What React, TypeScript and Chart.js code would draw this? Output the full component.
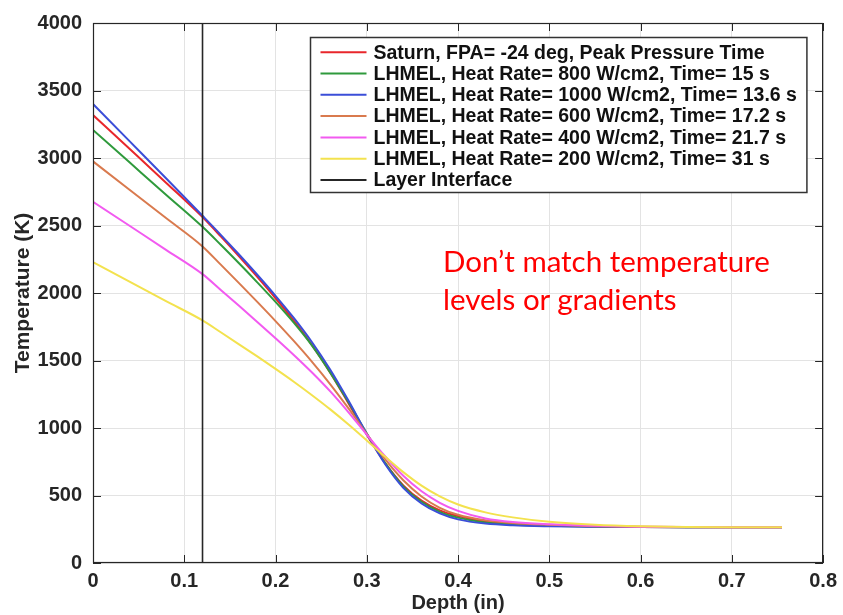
import React, { useEffect, useRef } from "react";
import { Chart, registerables } from "chart.js";

Chart.register(...registerables);

// ---- data ----
const depth = [0, 0.04, 0.08, 0.12, 0.14, 0.16, 0.18, 0.2, 0.22, 0.24, 0.26, 0.28, 0.3, 0.32, 0.34, 0.36, 0.38, 0.4, 0.43, 0.46, 0.5, 0.55, 0.6, 0.65, 0.7, 0.755];

const saturnPeak = [3318, 3068, 2817, 2562, 2419, 2271, 2119, 1961, 1795, 1614, 1410, 1182, 950, 742, 575, 462, 390, 348, 307, 289, 279, 272, 267, 265, 265, 265];
const lhmel800 = [3208, 2968, 2728, 2490, 2357, 2220, 2079, 1934, 1780, 1610, 1410, 1190, 960, 742, 568, 454, 379, 336, 300, 284, 275, 269, 266, 265, 265, 265];
const lhmel1000 = [3400, 3125, 2850, 2572, 2431, 2285, 2135, 1979, 1815, 1635, 1431, 1201, 957, 733, 557, 441, 367, 323, 292, 279, 272, 268, 266, 265, 265, 265];
const lhmel600 = [2975, 2765, 2555, 2345, 2210, 2073, 1934, 1792, 1645, 1490, 1324, 1145, 955, 769, 613, 493, 409, 357, 316, 296, 283, 273, 268, 266, 265, 265];
const lhmel400 = [2676, 2498, 2320, 2140, 2023, 1905, 1786, 1665, 1541, 1411, 1271, 1116, 951, 791, 646, 531, 446, 386, 330, 303, 287, 276, 269, 266, 265, 265];
const lhmel200 = [2228, 2085, 1940, 1797, 1709, 1620, 1530, 1438, 1343, 1243, 1138, 1026, 908, 788, 673, 573, 493, 433, 375, 338, 305, 283, 272, 267, 265, 265];

const interfaceDepth = 0.12;
const interfaceTemps = [0, 4000];

const seriesLabels = [
  "Saturn, FPA= -24 deg, Peak Pressure Time",
  "LHMEL, Heat Rate= 800 W/cm2, Time= 15 s",
  "LHMEL, Heat Rate= 1000 W/cm2, Time= 13.6 s",
  "LHMEL, Heat Rate= 600 W/cm2, Time= 17.2 s",
  "LHMEL, Heat Rate= 400 W/cm2, Time= 21.7 s",
  "LHMEL, Heat Rate= 200 W/cm2, Time= 31 s",
  "Layer Interface",
];
const seriesValues = [saturnPeak, lhmel800, lhmel1000, lhmel600, lhmel400, lhmel200];
const seriesColors = ["#e8262b", "#2f9a3c", "#3b4ed8", "#d97a4e", "#f25af0", "#f3e24e", "#262626"];

const xMin = 0, xMax = 0.8, xStep = 0.1;
const yMin = 0, yMax = 4000, yStep = 500;
const xTitle = "Depth (in)";
const yTitle = "Temperature (K)";
const noteLines = ["Don\u2019t match temperature", "levels or gradients"];

const FONT = "'Liberation Sans', Arial, Helvetica, sans-serif";
const AXIS_COLOR = "#262626";

const framePlugin = {
  id: "matlabFrame",
  afterDraw(chart: any) {
    const { ctx, chartArea: a, scales } = chart;
    ctx.save();
    // inward ticks
    ctx.strokeStyle = AXIS_COLOR;
    ctx.lineWidth = 1;
    const tl = 8;
    ctx.beginPath();
    scales.x.ticks.forEach((t: any) => {
      const px = Math.round(scales.x.getPixelForValue(t.value)) + 0.5;
      ctx.moveTo(px, a.bottom);
      ctx.lineTo(px, a.bottom - tl);
      ctx.moveTo(px, a.top);
      ctx.lineTo(px, a.top + tl);
    });
    scales.y.ticks.forEach((t: any) => {
      const py = Math.round(scales.y.getPixelForValue(t.value)) + 0.5;
      ctx.moveTo(a.left, py);
      ctx.lineTo(a.left + tl, py);
      ctx.moveTo(a.right, py);
      ctx.lineTo(a.right - tl, py);
    });
    ctx.stroke();
    // frame
    ctx.lineWidth = 1.2;
    ctx.strokeRect(a.left + 0.5, a.top + 0.5, a.right - a.left - 1, a.bottom - a.top - 1);

    // legend box
    ctx.font = `bold 19.5px ${FONT}`;
    let maxW = 0;
    seriesLabels.forEach((l) => { maxW = Math.max(maxW, ctx.measureText(l).width); });
    const padL = 10, lineLen = 46, gap = 7, padR = 10;
    const w = padL + lineLen + gap + maxW + padR;
    const rowH = 21.3;
    const h = 14.7 + rowH * (seriesLabels.length - 1) + 12.5;
    const bx = Math.round(a.right - 17 - w) + 0.5;
    const by = Math.round(a.top + 14) + 0.5;
    ctx.fillStyle = "#ffffff";
    ctx.fillRect(bx, by, w, h);
    ctx.strokeStyle = "#333333";
    ctx.lineWidth = 1.5;
    ctx.strokeRect(bx, by, w, h);
    ctx.textBaseline = "middle";
    ctx.textAlign = "left";
    seriesLabels.forEach((l, i) => {
      const cy = by + 14.7 + i * rowH;
      ctx.strokeStyle = seriesColors[i];
      ctx.lineWidth = 2;
      ctx.beginPath();
      ctx.moveTo(bx + padL, cy);
      ctx.lineTo(bx + padL + lineLen, cy);
      ctx.stroke();
      ctx.fillStyle = "#111111";
      ctx.fillText(l, bx + padL + lineLen + gap, cy + 1);
    });
    ctx.restore();
  },
};

export default function App() {
  const canvasRef = useRef<HTMLCanvasElement | null>(null);

  useEffect(() => {
    if (!canvasRef.current) return;
    const datasets: any[] = seriesValues.map((vals, i) => ({
      label: seriesLabels[i],
      data: depth.map((d, j) => ({ x: d, y: vals[j] })),
      borderColor: seriesColors[i],
      backgroundColor: seriesColors[i],
      borderWidth: 2,
      pointRadius: 0,
      fill: false,
      cubicInterpolationMode: "monotone",
      order: 20 - i,
    }));
    datasets.push({
      label: seriesLabels[6],
      data: interfaceTemps.map((t) => ({ x: interfaceDepth, y: t })),
      borderColor: seriesColors[6],
      backgroundColor: seriesColors[6],
      borderWidth: 1.6,
      pointRadius: 0,
      fill: false,
      tension: 0,
      order: 1,
    });

    const chart = new Chart(canvasRef.current, {
      type: "line",
      data: { datasets },
      plugins: [framePlugin],
      options: {
        animation: false,
        responsive: false,
        devicePixelRatio: 1,
        layout: { padding: { top: 19, right: 17, left: 0, bottom: 0 } },
        plugins: { legend: { display: false }, tooltip: { enabled: false } },
        scales: {
          x: {
            type: "linear",
            min: xMin,
            max: xMax,
            afterFit: (s: any) => { s.height = 52; },
            ticks: {
              stepSize: xStep,
              padding: 6,
              color: AXIS_COLOR,
              font: { family: FONT, size: 20, weight: "bold" },
              maxRotation: 0,
              callback: (v: any) => String(Math.round(Number(v) * 10) / 10),
            },
            grid: { color: "#e3e3e3", lineWidth: 1, drawTicks: false },
            border: { display: false },
            title: {
              display: true,
              text: xTitle,
              color: AXIS_COLOR,
              font: { family: FONT, size: 20, weight: "bold" },
              padding: { top: 0, bottom: 0 },
            },
          },
          y: {
            type: "linear",
            min: yMin,
            max: yMax,
            afterFit: (s: any) => { s.width = 93; },
            ticks: {
              stepSize: yStep,
              padding: 11,
              color: AXIS_COLOR,
              font: { family: FONT, size: 20, weight: "bold" },
              callback: (v: any) => String(Math.round(Number(v))),
            },
            grid: { color: "#e3e3e3", lineWidth: 1, drawTicks: false },
            border: { display: false },
            title: {
              display: true,
              text: yTitle,
              color: AXIS_COLOR,
              font: { family: FONT, size: 21, weight: "bold" },
              padding: { top: 11, bottom: 11 },
            },
          },
        },
      },
    });
    return () => chart.destroy();
  }, []);

  return (
    <div style={{ position: "fixed", left: 0, top: 0, width: 843, height: 615, background: "#ffffff" }}>
      <canvas ref={canvasRef} width={843} height={615} style={{ display: "block", width: 843, height: 615 }} />
      <div
        style={{
          position: "absolute",
          left: 443,
          top: 242,
          color: "#ff0000",
          fontFamily: "Lato, 'Open Sans', sans-serif",
          fontSize: 29.5,
          lineHeight: "38px",
          whiteSpace: "pre",
        }}
      >
        {noteLines.map((l, i) => (
          <div key={i}>{l}</div>
        ))}
      </div>
    </div>
  );
}
